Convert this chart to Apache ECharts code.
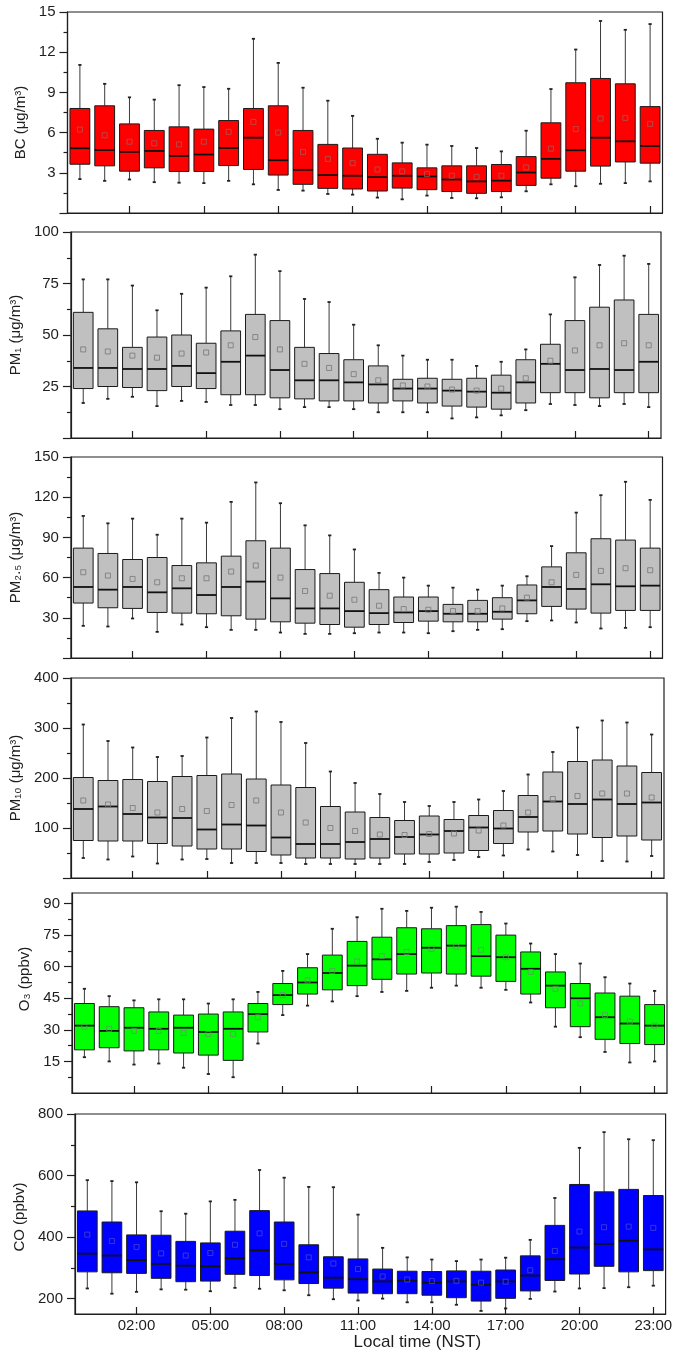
<!DOCTYPE html>
<html><head><meta charset="utf-8">
<script src="https://cdn.jsdelivr.net/npm/echarts@6/dist/echarts.min.js"></script>
<style>html,body{margin:0;padding:0;background:#fff}#c{width:675px;height:1354px}</style>
</head><body><div id="c"></div>
<script>
const hours = ['00:00','01:00','02:00','03:00','04:00','05:00','06:00','07:00','08:00','09:00','10:00','11:00',
               '12:00','13:00','14:00','15:00','16:00','17:00','18:00','19:00','20:00','21:00','22:00','23:00'];

// BC (µg/m3)
const bcLow  = [2.53,2.4,2.5,2.3,2.26,2.23,2.4,2.14,1.72,1.67,1.42,1.37,1.15,1.02,1.3,1.12,1.1,1.17,1.62,2.14,2.0,2.18,2.23,2.36];
const bcQ1   = [3.64,3.52,3.12,3.37,3.1,3.1,3.54,3.25,2.83,2.14,1.84,1.79,1.64,1.86,1.74,1.6,1.47,1.6,2.06,2.6,3.12,3.5,3.81,3.72];
const bcMed  = [4.83,4.7,4.56,4.63,4.26,4.36,4.85,5.62,3.94,3.22,2.83,2.78,2.68,2.78,2.73,2.5,2.36,2.41,3.02,4.04,4.68,5.62,5.35,5.0];
const bcQ3   = [7.8,8.0,6.65,6.16,6.43,6.26,6.9,7.8,8.0,6.16,5.12,4.85,4.38,3.74,3.37,3.52,3.52,3.62,4.21,6.73,9.72,10.04,9.64,7.94];
const bcHigh = [11.05,9.64,8.63,8.46,9.54,9.4,9.27,13.0,11.2,9.35,8.38,7.25,5.54,5.25,5.1,5.0,4.85,4.6,6.14,9.25,12.2,14.33,13.67,14.1];
const bcMean = [6.23,5.8,5.32,5.2,5.12,5.32,6.06,6.8,6.0,4.56,4.04,3.72,3.25,3.1,2.9,2.78,2.7,2.78,3.4,4.8,6.26,7.05,7.1,6.65];
const bcTicks = [0,3,6,9,12,15];
const bcMinor = [1.5,4.5,7.5,10.5,13.5];

// PM1 (µg/m3)
const pm1Low  = [17,19,20,15.5,18,17.5,16,16,14,15,15,14,12.5,12.5,12.5,9.5,10,11,13.5,16.5,16,15.5,16.5,15];
const pm1Q1   = [24,25,24.5,23,25,24,21,21,19.5,19,18,18,17,18,17,15.5,15,14,17,22,22,19.5,22,22];
const pm1Med  = [34,34,33.5,33.5,35,31.5,37,40,33,28,28,27,26,24,24,23,22.5,22,27,36,33,33.5,33,37];
const pm1Q3   = [61,53,44,49,50,46,52,60,57,44,41,38,35,28.5,29,28.5,29,30.5,38,45.5,57,63.5,67,60];
const pm1High = [77,77,74,62,70,73,78.5,89,81,67.5,66,55,45,40,38,38,35,37,43,60,78,84,88.5,84.5];
const pm1Mean = [43,42,40,39,41,41.5,45,49,43,36,34,31,28,25.5,25,23.5,23,24,29,37.5,42.5,45,46,45];
const pm1Ticks = [0,25,50,75,100];
const pm1Minor = [12.5,37.5,62.5,87.5];

// PM2.5 (µg/m3)
const pm25Low  = [24,23.5,29.5,19.5,25,23,21,21,19,18,18,18.5,19,19,18.5,20,21,21.5,27.5,28,26.5,22,22.5,23];
const pm25Q1   = [41,37.5,37,34,33.5,33,31.5,29,27,26,25,23,25,26.5,27.5,27,27,29,33,38.5,36.5,33.5,35.5,35.5];
const pm25Med  = [53,51,53,49,52,47,53,57,44.5,37,37,35,33.5,34,35,33,33,34.5,43,53,51.5,55,53.5,54];
const pm25Q3   = [82,78,73.5,75,69,71,76,87.5,82,66,63,56.5,51,45.5,45.5,40,43,45,54.5,68,78.5,89,88,82];
const pm25High = [106,100.5,104,92,104,101,116.5,131,115.5,99,91.5,81,63.5,60,54,52.5,51,54,61,83.5,108.5,121.5,131.5,118];
const pm25Mean = [64,61.5,59,56.5,59.5,59.5,64.5,69,60,50,46.5,43.5,39,36.5,36,35,35,37,45,56.5,62,65,67,65.5];
const pm25Ticks = [0,30,60,90,120,150];
const pm25Minor = [15,45,75,105,135];

// PM10 (µg/m3)
const pm10Low  = [40,37,43,29,37,38,30,30,30,28,28,28,28,28,32,36,42,45,57,53,46,34,33,44];
const pm10Q1   = [75,74,74,69,64,58,58,53,46,40,40,38,40,48,48,50,55,69,92,94,88,81,84,76];
const pm10Med  = [138,143,128,121,120,97,107,105,81,68,68,72,78,82,87,94,101,99,122,153,148,157,148,151];
const pm10Q3   = [201,195,197,193,203,205,208,198,186,181,143,132,121,115,124,117,125,135,165,212,233,236,224,211];
const pm10High = [307,274,261,242,244,281,320,333,312,270,213,190,168,152,144,152,157,174,207,252,301,315,311,287];
const pm10Mean = [155,147,140,131,138,134,146,155,131,111,100,94,87,86,88,89,95,105,131,158,164,169,169,161];
const pm10Ticks = [0,100,200,300,400];
const pm10Minor = [50,150,250,350];

// O3 (ppbv)
const o3Low  = [17,15,13.5,14,12,9,7.5,23.5,37,41.5,43.5,46,48,48.5,50,51,50,49,43,31.5,26.5,19.5,14.5,15];
const o3Q1   = [20.5,21.5,20,20.5,19,18,15.5,29,42,47,49,51,54,56.5,57,56.5,55.5,53,47,40.5,31.5,25.5,23.5,23];
const o3Med  = [32,29.5,31,30.5,31,29,30.5,37.5,46.5,52.5,57,60.5,63.5,66,69,70,65,64.5,59,51,45,36,33,32];
const o3Q3   = [42.5,41,40.5,38.5,37,37.5,38.5,42.5,52,59.5,65.5,72,74,78.5,78,79.5,80,75,67,57.5,52,47.5,46,42];
const o3High = [49.5,46,44,44.5,44.5,42.5,44.5,48,58,66,78,83.5,87.5,86.5,88,88.5,86,80.5,71,66,61.5,55,52,48.5];
const o3Mean = [31.5,30.5,29.5,29.5,28.5,28,28,36,46.5,53.5,58,62.5,65,67,68.5,69.5,68,64.5,57.5,49.5,42.5,37,34,32];
const o3Ticks = [15,30,45,60,75,90];
const o3Minor = [7.5,22.5,37.5,52.5,67.5,82.5];

// CO (ppbv)
const coLow  = [233,216,222,230,229,224,235,232,227,211,198,194,200,188,188,180,160,168,199,223,233,234,237,242];
const coQ1   = [287,284,282,266,255,257,279,275,261,249,234,218,216,216,211,203,192,201,225,259,280,305,287,291];
const coMed  = [346,340,325,313,307,305,331,357,313,285,268,263,256,258,252,256,245,256,275,328,366,378,388,360];
const coQ3   = [485,449,407,406,386,381,419,486,449,375,336,329,296,289,288,290,289,293,339,438,571,547,555,535];
const coHigh = [585,582,578,484,476,516,521,618,593,563,562,473,365,334,327,322,327,333,391,527,690,741,718,715];
const coMean = [408,387,368,347,340,348,375,412,378,334,314,296,272,262,257,258,252,255,292,355,418,432,434,430];
const coTicks = [200,400,600,800];
const coMinor = [300,500,700];

const FONT = '"Liberation Sans", Arial, sans-serif';
const INK = '#1e1e1e';
const panels = [
  {name:'BC (μg/m³)', low:bcLow,q1:bcQ1,med:bcMed,q3:bcQ3,high:bcHigh,mean:bcMean, ticks:bcTicks, minor:bcMinor,
   color:'#ff0000', meanColor:'#a85858', min:0,max:15,interval:3, top:12,height:201,left:67.5,right:12.5, nameGap:32, namePad:[0,20,0,0]},
  {name:'PM₁ (μg/m³)', low:pm1Low,q1:pm1Q1,med:pm1Med,q3:pm1Q3,high:pm1High,mean:pm1Mean, ticks:pm1Ticks, minor:pm1Minor,
   color:'#c0c0c0', meanColor:'#777', min:0,max:100,interval:25, top:232,height:206,left:65,right:14, nameGap:33, namePad:[0,0,0,0]},
  {name:'PM₂.₅ (μg/m³)', low:pm25Low,q1:pm25Q1,med:pm25Med,q3:pm25Q3,high:pm25High,mean:pm25Mean, ticks:pm25Ticks, minor:pm25Minor,
   color:'#c0c0c0', meanColor:'#777', min:0,max:150,interval:30, top:457,height:201,left:65.5,right:12.5, nameGap:34, namePad:[0,0,0,0]},
  {name:'PM₁₀ (μg/m³)', low:pm10Low,q1:pm10Q1,med:pm10Med,q3:pm10Q3,high:pm10High,mean:pm10Mean, ticks:pm10Ticks, minor:pm10Minor,
   color:'#c0c0c0', meanColor:'#777', min:0,max:400,interval:100, top:678,height:200,left:69,right:11, nameGap:39, namePad:[0,0,0,0]},
  {name:'O₃ (ppbv)', low:o3Low,q1:o3Q1,med:o3Med,q3:o3Q3,high:o3High,mean:o3Mean, ticks:o3Ticks, minor:o3Minor,
   color:'#00ff00', meanColor:'#5f9a5f', min:0,max:95,interval:5, top:893,height:200,left:72,right:8, nameGap:33, namePad:[0,0,0,28]},
  {name:'CO (ppbv)', low:coLow,q1:coQ1,med:coMed,q3:coQ3,high:coHigh,mean:coMean, ticks:coTicks, minor:coMinor,
   color:'#0000ff', meanColor:'#4646c8', min:150,max:800,interval:50, top:1114,height:200,left:75,right:6.5, nameGap:41, namePad:[0,6,0,0], last:true}
];

function tickShow(idx){ return idx % 3 === 2; }

function boxRenderer(color){
  return function(params, api){
    const x = api.value(0);
    const pLow = api.coord([x, api.value(1)]);
    const pQ1 = api.coord([x, api.value(2)]);
    const pMed = api.coord([x, api.value(3)]);
    const pQ3 = api.coord([x, api.value(4)]);
    const pHigh = api.coord([x, api.value(5)]);
    const band = api.size([1, 0])[0];
    const w = band * 0.8;
    const cx = pMed[0];
    const cap = 1.6;
    const wl = {stroke:'#3a3a3a', lineWidth:1};
    return {type:'group', children:[
      {type:'line', shape:{x1:cx,y1:pHigh[1],x2:cx,y2:pQ3[1]}, style:wl},
      {type:'line', shape:{x1:cx,y1:pQ1[1],x2:cx,y2:pLow[1]}, style:wl},
      {type:'line', shape:{x1:cx-cap,y1:pHigh[1],x2:cx+cap,y2:pHigh[1]}, style:{stroke:'#222', lineWidth:1.8}},
      {type:'line', shape:{x1:cx-cap,y1:pLow[1],x2:cx+cap,y2:pLow[1]}, style:{stroke:'#222', lineWidth:1.8}},
      {type:'rect', shape:{x:cx-w/2, y:pQ3[1], width:w, height:pQ1[1]-pQ3[1]}, style:{fill:color, stroke:'#1a1a1a', lineWidth:1}},
      {type:'line', shape:{x1:cx-w/2,y1:pMed[1],x2:cx+w/2,y2:pMed[1]}, style:{stroke:'#111', lineWidth:1.8}}
    ]};
  };
}

const grid = [], xAxis = [], yAxis = [], series = [];
panels.forEach((p, i) => {
  grid.push({left:p.left, right:p.right, top:p.top, height:p.height, show:true, borderColor:INK, borderWidth:1.2, backgroundColor:'transparent'});
  xAxis.push({
    gridIndex:i, type:'category', data:hours, boundaryGap:true,
    axisLine:{show:true, lineStyle:{color:INK, width:1.2}},
    axisTick:{show:true, inside:true, length:7, alignWithLabel:true, interval:(idx)=>tickShow(idx), lineStyle:{color:INK, width:1.2}},
    axisLabel:{show:!!p.last, interval:(idx)=>tickShow(idx), fontSize:15, color:INK, margin:4, fontFamily:FONT},
    splitLine:{show:false},
    name:p.last ? 'Local time (NST)' : '', nameLocation:'middle', nameGap:20,
    nameTextStyle:{fontSize:17, color:INK, fontFamily:FONT, padding:[0,0,0,94]}
  });
  const yi = yAxis.length;
  yAxis.push({
    gridIndex:i, type:'value', position:'left', min:p.min, max:p.max, interval:p.interval,
    name:p.name, nameLocation:'middle', nameGap:p.nameGap,
    nameTextStyle:{fontSize:15, color:INK, fontFamily:FONT, padding:p.namePad},
    axisLine:{show:true, lineStyle:{color:INK, width:1.2}},
    axisTick:{show:true, inside:false, length:8, customValues:p.ticks, lineStyle:{color:INK, width:1.2}},
    minorTick:{show:false},
    axisLabel:{fontSize:15, color:INK, margin:12, customValues:p.ticks.filter(v => v !== 0), fontFamily:FONT},
    splitLine:{show:false}
  });
  yAxis.push({
    gridIndex:i, type:'value', position:'left', offset:0, min:p.min, max:p.max, interval:p.interval,
    axisLine:{show:false},
    axisTick:{show:true, inside:false, length:4, customValues:p.minor, lineStyle:{color:INK, width:1.2}},
    minorTick:{show:false},
    axisLabel:{show:false},
    splitLine:{show:false}
  });
  const boxData = hours.map((h, k) => [k, p.low[k], p.q1[k], p.med[k], p.q3[k], p.high[k]]);
  series.push({
    type:'custom', xAxisIndex:i, yAxisIndex:yi, renderItem:boxRenderer(p.color),
    encode:{x:0, y:[1,2,3,4,5]}, data:boxData, z:2, silent:true
  });
  series.push({
    type:'scatter', xAxisIndex:i, yAxisIndex:yi, data:p.mean, symbol:'rect', symbolSize:5,
    itemStyle:{color:'rgba(0,0,0,0)', borderColor:p.meanColor, borderWidth:1}, z:5, silent:true
  });
});

const chart = echarts.init(document.getElementById('c'), null, {renderer:'canvas'});
chart.setOption({animation:false, backgroundColor:'#fff', grid, xAxis, yAxis, series});
</script>
</body></html>
